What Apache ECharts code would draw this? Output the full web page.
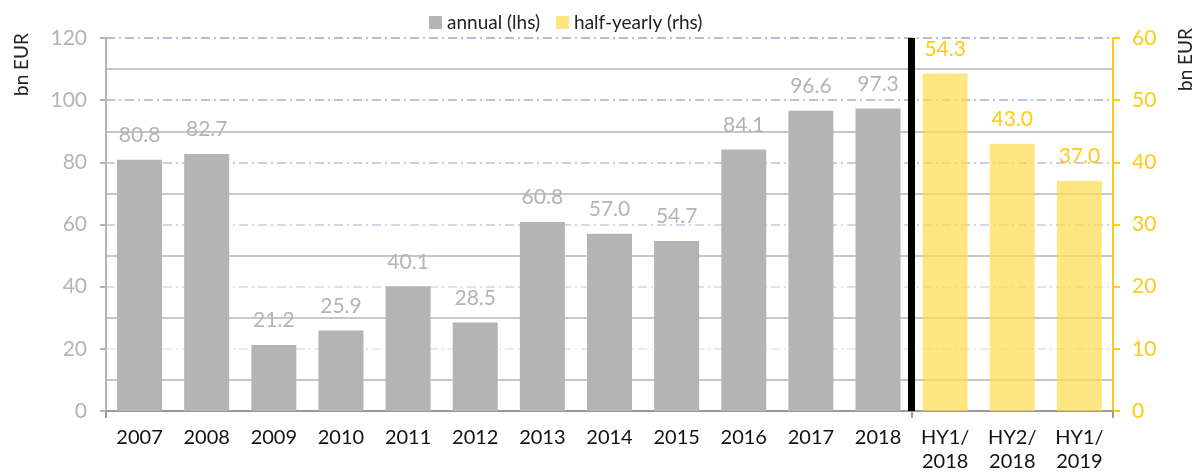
<!DOCTYPE html>
<html lang="en" style="height: 100%">
<head>
  <meta charset="utf-8">
</head>
<body style="height: 100%; margin: 0">
  <div id="container" style="width: 1200px; height: 474px"></div>
  <script type="text/javascript" src="https://cdn.jsdelivr.net/npm/echarts@6/dist/echarts.min.js"></script>
  <script type="text/javascript">
    // annual values (left axis)
    var years = ['2007', '2008', '2009', '2010', '2011', '2012', '2013', '2014', '2015', '2016', '2017', '2018'];
    var annualValues = [80.8, 82.7, 21.2, 25.9, 40.1, 28.5, 60.8, 57.0, 54.7, 84.1, 96.6, 97.3];
    // half-yearly values (right axis)
    var halfYears = ['HY1/\n2018', 'HY2/\n2018', 'HY1/\n2019'];
    var halfValues = [54.3, 43.0, 37.0];

    var categories = years.concat(halfYears);
    var annualData = annualValues.concat(halfYears.map(function () { return '-'; }));
    var halfData = years.map(function () { return '-'; }).concat(halfValues);

    var FONT = 'Lato';
    var GREY = '#b4b4b4';
    var YELLOW = '#fdcb14';

    var dom = document.getElementById('container');
    var myChart = echarts.init(dom, null, { renderer: 'canvas' });

    var option = {
      animation: false,
      textStyle: { fontFamily: FONT },
      legend: {
        top: 8,
        left: 424,
        itemWidth: 13,
        itemHeight: 13,
        itemGap: 16,
        icon: 'rect',
        textStyle: { fontSize: 19, color: '#222', fontFamily: FONT },
        data: ['annual (lhs)', 'half-yearly (rhs)']
      },
      grid: { left: 106, right: 87, top: 38, bottom: 61 },
      graphic: [
        {
          type: 'text', x: 12, y: 96, rotation: Math.PI / 2,
          style: { text: 'bn EUR', font: '19px ' + FONT, fill: '#222' }
        },
        {
          type: 'text', x: 1176, y: 91, rotation: Math.PI / 2,
          style: { text: 'bn EUR', font: '19px ' + FONT, fill: '#222' }
        }
      ],
      xAxis: [
        {
          type: 'category',
          data: categories,
          boundaryGap: true,
          axisLine: { lineStyle: { color: '#999', width: 2 } },
          axisTick: {
            show: true,
            length: 7,
            interval: function (i) { return i === 0 || i === years.length; },
            lineStyle: { color: '#999', width: 2 }
          },
          axisLabel: { color: '#111', fontSize: 20, margin: 15, lineHeight: 24, fontFamily: FONT },
          splitLine: { show: false }
        },
        {
          // helper axis in "category slots" for the separator line
          type: 'value',
          min: 0,
          max: categories.length,
          show: false
        }
      ],
      yAxis: [
        {
          type: 'value',
          position: 'left',
          min: 0, max: 120, interval: 20,
          axisLine: { show: true, lineStyle: { color: GREY, width: 2 } },
          axisTick: { show: true, length: 6, lineStyle: { color: GREY, width: 2 } },
          axisLabel: { color: GREY, fontSize: 21, margin: 19, fontFamily: FONT },
          splitLine: {
            show: true,
            lineStyle: {
              type: [9, 4, 2, 4],
              width: 1.5,
              color: ['rgba(0,0,0,0)', '#e0e3f3', '#d3d7ee', '#c5cae9', '#b6bee3', '#a7b1de', '#99a5d9']
            }
          }
        },
        {
          type: 'value',
          position: 'right',
          min: 0, max: 60, interval: 10,
          axisLine: { show: true, lineStyle: { color: YELLOW, width: 2 } },
          axisTick: { show: true, length: 7, lineStyle: { color: YELLOW, width: 2 } },
          axisLabel: { color: YELLOW, fontSize: 21, margin: 19, fontFamily: FONT },
          splitLine: { show: false }
        },
        {
          type: 'value',
          position: 'left',
          min: 0, max: 120, interval: 10,
          axisLine: { show: false },
          axisTick: { show: false },
          axisLabel: { show: false },
          splitLine: {
            show: true,
            lineStyle: { color: ['rgba(0,0,0,0)', GREY], width: 1.5 }
          }
        }
      ],
      series: [
        {
          name: 'annual (lhs)',
          type: 'bar',
          yAxisIndex: 0,
          data: annualData,
          barWidth: 45,
          barGap: '-100%',
          itemStyle: { color: GREY },
          label: {
            show: true,
            position: 'top',
            distance: 14,
            color: GREY,
            fontSize: 21,
            fontFamily: FONT,
            formatter: function (p) { return p.value.toFixed(1); }
          }
        },
        {
          name: 'half-yearly (rhs)',
          type: 'bar',
          yAxisIndex: 1,
          data: halfData,
          barWidth: 45,
          barGap: '-100%',
          itemStyle: { color: 'rgba(254,219,74,0.7)' },
          label: {
            show: true,
            position: 'top',
            distance: 14,
            color: YELLOW,
            fontSize: 21,
            fontFamily: FONT,
            formatter: function (p) { return p.value.toFixed(1); }
          }
        },
        {
          // separator between annual and half-yearly blocks
          name: 'separator',
          type: 'line',
          xAxisIndex: 1,
          yAxisIndex: 0,
          data: [],
          markLine: {
            silent: true,
            symbol: 'none',
            label: { show: false },
            lineStyle: { color: '#000', width: 7, type: 'solid' },
            data: [{ xAxis: years.length }]
          }
        }
      ]
    };

    myChart.setOption(option);
    window.addEventListener('resize', myChart.resize);
  </script>
</body>
</html>
